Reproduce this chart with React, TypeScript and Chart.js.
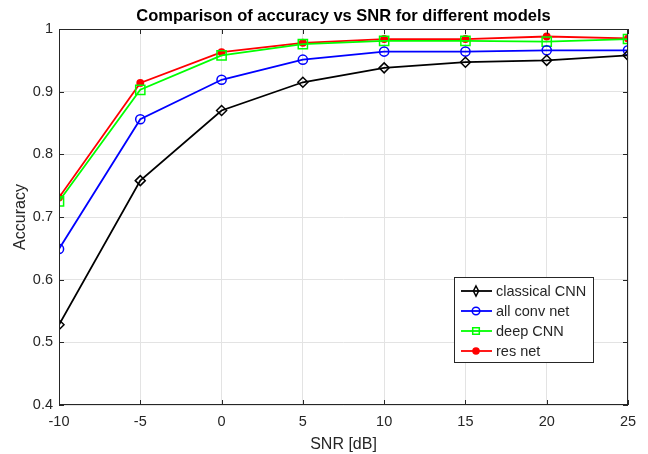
import React, { useEffect, useRef } from "react";
import { Chart, registerables } from "chart.js";

Chart.register(...registerables);

const snr = [-10, -5, 0, 5, 10, 15, 20, 25];
const classicalCNN = [0.528, 0.758, 0.870, 0.915, 0.938, 0.947, 0.950, 0.958];
const allConvNet = [0.649, 0.856, 0.919, 0.951, 0.964, 0.964, 0.966, 0.966];
const deepCNN = [0.725, 0.903, 0.958, 0.976, 0.981, 0.981, 0.980, 0.984];
const resNet = [0.731, 0.914, 0.963, 0.978, 0.984, 0.984, 0.988, 0.985];
const seriesNames = ["classical CNN", "all conv net", "deep CNN", "res net"];
const yTicks = [0.4, 0.5, 0.6, 0.7, 0.8, 0.9, 1];
const xTicks = [-10, -5, 0, 5, 10, 15, 20, 25];

const FONT = "'Liberation Sans', Arial, sans-serif";
const TXT = "#262626";

const styles = [
  { color: "#000000", style: "rectRot", radius: 5, fill: "rgba(0,0,0,0)" },
  { color: "#0000ff", style: "circle", radius: 4.6, fill: "rgba(0,0,0,0)" },
  { color: "#00ff00", style: "rect", radius: 6.5, fill: "rgba(0,0,0,0)" },
  { color: "#ff0000", style: "circle", radius: 3.2, fill: "#ff0000" },
];

const framePlugin = {
  id: "frame",
  afterDraw(chart: any) {
    const { ctx, chartArea: a, scales } = chart;
    ctx.save();
    ctx.strokeStyle = TXT;
    ctx.lineWidth = 1;
    ctx.strokeRect(a.left + 0.5, a.top + 0.5, a.right - a.left - 1, a.bottom - a.top - 1);
    const tl = 5;
    ctx.beginPath();
    for (const v of xTicks) {
      const px = Math.round(scales.x.getPixelForValue(v)) + 0.5;
      ctx.moveTo(px, a.bottom);
      ctx.lineTo(px, a.bottom - tl);
      ctx.moveTo(px, a.top);
      ctx.lineTo(px, a.top + tl);
    }
    for (const v of yTicks) {
      const py = Math.round(scales.y.getPixelForValue(v)) + 0.5;
      ctx.moveTo(a.left, py);
      ctx.lineTo(a.left + tl, py);
      ctx.moveTo(a.right, py);
      ctx.lineTo(a.right - tl, py);
    }
    ctx.stroke();

    // title
    ctx.fillStyle = "#000";
    ctx.font = `bold 16.5px ${FONT}`;
    ctx.textAlign = "center";
    ctx.textBaseline = "middle";
    ctx.fillText("Comparison of accuracy vs SNR for different models", (a.left + a.right) / 2, 16);

    // legend
    const bw = 139;
    const bh = 85;
    const bx = a.right - 35 - bw;
    const by = a.bottom - 43 - bh;
    ctx.fillStyle = "#ffffff";
    ctx.fillRect(bx, by, bw, bh);
    ctx.strokeStyle = TXT;
    ctx.lineWidth = 1;
    ctx.strokeRect(bx + 0.5, by + 0.5, bw, bh);
    ctx.font = `14.5px ${FONT}`;
    ctx.textAlign = "left";
    chart.data.datasets.forEach((ds: any, i: number) => {
      const y = by + 14 + i * 20;
      const s = styles[i];
      ctx.strokeStyle = s.color;
      ctx.lineWidth = 1.8;
      ctx.beginPath();
      ctx.moveTo(bx + 7, y);
      ctx.lineTo(bx + 38, y);
      ctx.stroke();
      ctx.lineWidth = 1.5;
      ctx.fillStyle = s.fill;
      ctx.beginPath();
      const cx = bx + 22;
      if (s.style === "circle") {
        ctx.arc(cx, y, i === 3 ? 3 : 3.8, 0, Math.PI * 2);
      } else if (s.style === "rect") {
        const r = 3.3;
        ctx.rect(cx - r, y - r, 2 * r, 2 * r);
      } else {
        ctx.moveTo(cx, y - 5);
        ctx.lineTo(cx + 2.6, y);
        ctx.lineTo(cx, y + 5);
        ctx.lineTo(cx - 2.6, y);
        ctx.closePath();
      }
      ctx.fill();
      ctx.stroke();
      ctx.fillStyle = TXT;
      ctx.fillText(ds.label, bx + 42, y + 1);
    });
    ctx.restore();
  },
};

export default function App() {
  const ref = useRef<HTMLCanvasElement>(null);
  useEffect(() => {
    const all = [classicalCNN, allConvNet, deepCNN, resNet];
    const chart = new Chart(ref.current as HTMLCanvasElement, {
      type: "line",
      data: {
        datasets: all.map((vals, i) => ({
          label: seriesNames[i],
          data: snr.map((x, j) => ({ x, y: vals[j] })),
          borderColor: styles[i].color,
          backgroundColor: styles[i].fill,
          pointBorderColor: styles[i].color,
          pointBackgroundColor: styles[i].fill,
          pointStyle: styles[i].style as any,
          pointRadius: styles[i].radius,
          pointBorderWidth: 1.5,
          borderWidth: 1.8,
          tension: 0,
          fill: false,
        })),
      },
      options: {
        animation: false,
        responsive: false,
        devicePixelRatio: 1,
        layout: { padding: { top: 29, right: 20, left: 11, bottom: 0 } },
        plugins: { legend: { display: false }, tooltip: { enabled: false }, title: { display: false } },
        scales: {
          x: {
            type: "linear",
            min: -10,
            max: 25,
            afterBuildTicks: (s: any) => {
              s.ticks = xTicks.map((v) => ({ value: v }));
            },
            afterFit: (s: any) => {
              s.height = 49;
            },
            grid: { color: "#e3e3e3", drawTicks: false },
            border: { display: false },
            ticks: { color: TXT, font: { family: FONT, size: 14.5 }, padding: 8 },
            title: { display: true, text: "SNR [dB]", color: TXT, font: { family: FONT, size: 16 }, padding: { top: 0, bottom: 0 } },
          },
          y: {
            type: "linear",
            min: 0.4,
            max: 1,
            afterBuildTicks: (s: any) => {
              s.ticks = yTicks.map((v) => ({ value: v }));
            },
            afterFit: (s: any) => {
              s.width = 48;
            },
            grid: { color: "#e3e3e3", drawTicks: false },
            border: { display: false },
            ticks: {
              color: TXT,
              font: { family: FONT, size: 14.5 },
              padding: 6,
              callback: (v: any) => String(Number(Number(v).toFixed(1))),
            },
            title: { display: true, text: "Accuracy", color: TXT, font: { family: FONT, size: 16 }, padding: { top: 0, bottom: 0 } },
          },
        },
      },
      plugins: [framePlugin],
    });
    return () => chart.destroy();
  }, []);
  return (
    <div style={{ position: "absolute", left: 0, top: 0, width: 648, height: 454, background: "#fff" }}>
      <canvas ref={ref} width={648} height={454} style={{ width: 648, height: 454 }} />
    </div>
  );
}
